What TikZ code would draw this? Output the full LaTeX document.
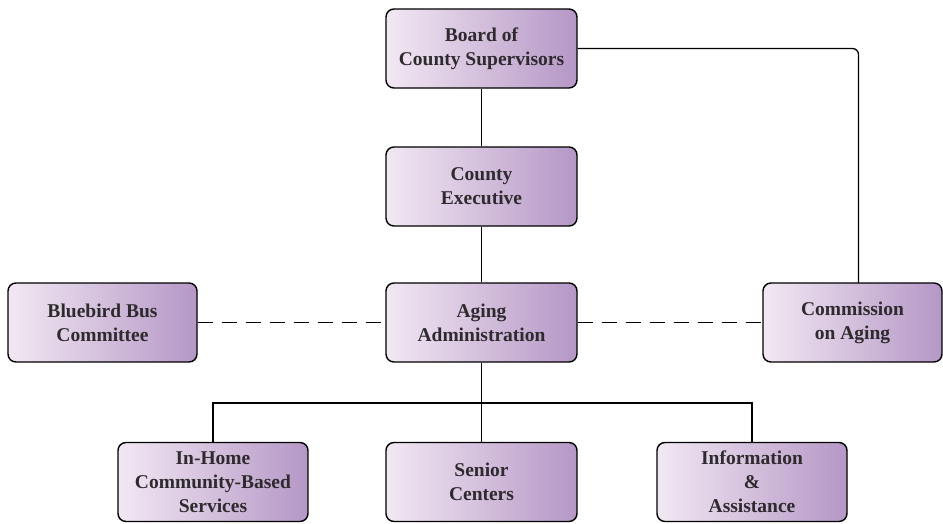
\documentclass[tikz,border=0pt]{standalone}
\usepackage{fontspec}
\setmainfont{Liberation Serif}
\definecolor{boxlight}{HTML}{F2E8F3}
\definecolor{boxmid}{HTML}{D2BCDB}
\definecolor{boxdark}{HTML}{B597C6}
\definecolor{txt}{HTML}{2E2A2E}
\begin{document}
\begin{tikzpicture}[x=1pt,y=-1pt,
  orgbox/.style={draw=black, line width=1.4pt, rounded corners=8pt,
    left color=boxlight, middle color=boxmid, right color=boxdark,
    minimum width=191pt, minimum height=79pt, inner sep=2pt,
    align=center, text=txt, font=\fontsize{19.5}{24}\selectfont\bfseries},
  link/.style={line width=1.3pt, draw=black},
  dlink/.style={line width=1.3pt, draw=black, dash pattern=on 15pt off 9pt}]
\useasboundingbox (0,0) rectangle (943,523);
\node[orgbox] (board) at (481.5,48.5) {Board of\\County Supervisors};
\node[orgbox] (exec) at (481.5,186.5) {County\\Executive};
\node[orgbox] (aging) at (481.5,322.5) {Aging\\Administration};
\node[orgbox, minimum width=189pt] (blue) at (102.5,322.5) {Bluebird Bus\\Committee};
\node[orgbox, minimum width=179pt] (comm) at (852.5,322.5) {Commission\\on Aging};
\node[orgbox, minimum width=190pt] (home) at (213,482) {In-Home\\Community-Based\\Services};
\node[orgbox] (senior) at (481.5,482) {Senior\\Centers};
\node[orgbox, minimum width=190pt] (info) at (752,482) {Information\\\&\\Assistance};
\coordinate (bus) at (481.5,403);
\draw[link] (board) -- (exec);
\draw[link] (exec) -- (aging);
\draw[link, rounded corners=6pt] (board.east) -- (858.5,48.5) -- (858.5,283);
\draw[dlink] (blue.east) -- (aging.west);
\draw[dlink] (aging.east) -- (comm.west);
\draw[link] (aging.south) -- (bus);
\draw[link] (bus) -| (home.north);
\draw[link] (bus) -| (info.north);
\draw[link] (bus) -- (senior.north);
\end{tikzpicture}
\end{document}
